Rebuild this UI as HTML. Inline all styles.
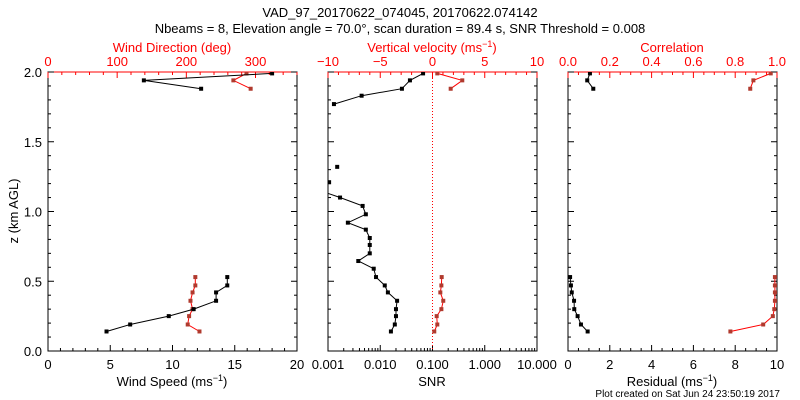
<!DOCTYPE html>
<html><head><meta charset="utf-8"><style>
body{margin:0;background:#fff;}
svg{display:block;font-family:"Liberation Sans",sans-serif;}
</style></head><body>
<svg id="c" width="800" height="400" viewBox="0 0 800 400">
<text x="400" y="17" text-anchor="middle" font-size="13">VAD_97_20170622_074045, 20170622.074142</text>
<text x="400" y="33" text-anchor="middle" font-size="13">Nbeams = 8, Elevation angle = 70.0°, scan duration = 89.4 s, SNR Threshold = 0.008</text>
<text x="780" y="397" text-anchor="end" font-size="10">Plot created on Sat Jun 24 23:50:19 2017</text>
<text transform="translate(18,211) rotate(-90)" text-anchor="middle" font-size="13">z (km AGL)</text>
<g id="g"></g>
</svg>
<script>
// Panel 1: wind speed (black) & direction (red)
const spdZ=[0.14,0.19,0.25,0.30,0.36,0.42,0.47,0.53,null,1.99,1.94,1.88];
const spdV=[4.7,6.6,9.7,11.7,13.5,13.5,14.4,14.4,null,18.0,7.7,12.3];
const dirV=[219,202,204,209,206,209,213,213,null,287,268,293];
// Panel 2: SNR (black) & vertical velocity (red)
const snrZ=[0.14,0.19,0.25,0.30,0.36,0.42,0.47,0.53,0.59,0.645,0.70,0.76,0.81,0.87,0.92,0.98,1.04,1.10,1.15,null,1.21,null,1.32,null,1.77,1.83,1.88,1.94,1.99];
const snrV=[0.016,0.019,0.020,0.020,0.021,0.014,0.0122,0.0083,0.0075,0.0038,0.0063,0.0063,0.0063,0.0053,0.0024,0.0053,0.0046,0.0017,0.0007,null,0.00105,null,0.0015,null,0.0013,0.0044,0.026,0.037,0.066];
const wZ=[0.14,0.19,0.25,0.30,0.36,0.42,0.47,0.53,null,1.99,1.94,1.88];
const wV=[0.17,0.46,0.40,0.85,1.03,0.75,0.85,0.88,null,0.46,2.85,1.74];
// Panel 3: residual (black) & correlation (red)
const resZ=[0.14,0.19,0.25,0.30,0.36,0.42,0.47,0.53,null,1.99,1.94,1.88];
const resV=[0.94,0.62,0.46,0.30,0.29,0.18,0.14,0.10,null,1.05,0.92,1.21];
const corV=[0.777,0.934,0.98,0.987,0.99,0.99,0.99,0.99,null,0.97,0.887,0.872];
const zTicks=["0.0","0.5","1.0","1.5","2.0"];

const NS="http://www.w3.org/2000/svg";
const G=document.getElementById('g');
const TOP=72,BOT=351;
const yS=z=>BOT-(z/2)*(BOT-TOP);
function el(t,a,p){const e=document.createElementNS(NS,t);for(const k in a)e.setAttribute(k,a[k]);(p||G).appendChild(e);return e;}
function txt(x,y,s,col,anchor,size,p){const e=el('text',{x:x,y:y,fill:col,'text-anchor':anchor||'middle','font-size':size||13},p);e.textContent=s;return e;}

function panel(name,L,R,xb,xt,clipId){
  const g=el('g',{});
  
  
  const cp=el('clipPath',{id:clipId},g);el('rect',{x:L,y:TOP,width:R-L,height:BOT-TOP},cp);
  const fr=el('rect',{x:L,y:TOP,width:R-L,height:BOT-TOP,fill:'none',stroke:'#000'},g);
  
  
  el('line',{x1:L,y1:TOP,x2:R,y2:TOP,stroke:'#f00'},g);
  // y ticks
  for(let i=0;i<=20;i++){const y=yS(i/10),len=i%5==0?6:3;
    el('line',{x1:L,y1:y,x2:L+len,y2:y,stroke:'#000'},g);
    el('line',{x1:R,y1:y,x2:R-len,y2:y,stroke:'#000'},g);}
  // bottom
  xb(g);xt(g);
  return g;
}
function linTicks(g,L,R,min,max,maj,minr,y,dir,col,labels,fmt,anc){
  const s=v=>L+(v-min)/(max-min)*(R-L);
  const n=Math.round((max-min)/minr);
  for(let i=0;i<=n;i++){const v=min+i*minr;const isM=Math.abs((v-min)/maj-Math.round((v-min)/maj))<1e-6;
    el('line',{x1:s(v),y1:y,x2:s(v),y2:y+dir*(isM?6:3),stroke:col},g);
    if(isM&&labels){const t=txt(s(v),labels,fmt(v),col,'middle',13,g);
      
      }}
}
function series(g,xs,zs,vs,lc,mc,clip,name){
  const sg=el('g',{'clip-path':'url(#'+clip+')'},g);
  
  
  let d='',pen=false;
  for(let i=0;i<zs.length;i++){
    if(zs[i]==null||vs[i]==null){pen=false;continue;}
    const x=xs(vs[i]),y=yS(zs[i]);d+=(pen?'L':'M')+x.toFixed(1)+' '+y.toFixed(1);pen=true;}
  el('path',{d:d,fill:'none',stroke:lc,'stroke-width':1},sg);
  for(let i=0;i<zs.length;i++){if(zs[i]==null||vs[i]==null)continue;
    const m=el('rect',{x:xs(vs[i])-2,y:yS(zs[i])-2,width:4,height:4,fill:mc},sg);
    
    }
}
// y labels
zTicks.forEach((s,i)=>{const t=txt(42,yS(i*0.5)+5,s,'#000','end',13);
  
  });

// Panel 1
const L1=48,R1=297;
const sx1=v=>L1+v/20*(R1-L1), dx1=v=>L1+v/360*(R1-L1);
const p1=panel('wind-panel',L1,R1,g=>linTicks(g,L1,R1,0,20,5,1,BOT,-1,'#000',369,v=>String(Math.round(v))),
  g=>linTicks(g,L1,360/360*R1+0*L1,0,360,100,20,TOP,1,'#f00',66,v=>String(Math.round(v))),'c1');
txt(172,386,'Wind Speed (ms','#000','middle',13,p1).innerHTML='Wind Speed (ms<tspan dy="-5" font-size="9">−1</tspan><tspan dy="5">)</tspan>';
txt(172,52,'Wind Direction (deg)','#f00','middle',13,p1);
series(p1,dx1,spdZ,dirV,'#f00','#b03a2e','c1','wind-direction-series');
series(p1,sx1,spdZ,spdV,'#000','#000','c1','wind-speed-series');

// Panel 2
const L2=328,R2=537;
const lx2=v=>L2+(Math.log10(v)+3)/4*(R2-L2), wx2=v=>L2+(v+10)/20*(R2-L2);
const p2=panel('snr-panel',L2,R2,g=>{
  for(let d=-3;d<1;d++)for(let k=1;k<10;k++){const x=lx2(k*Math.pow(10,d));el('line',{x1:x,y1:BOT,x2:x,y2:BOT-(k==1?6:3),stroke:'#000'},g);}
  el('line',{x1:R2,y1:BOT,x2:R2,y2:BOT-6,stroke:'#000'},g);
  ['0.001','0.010','0.100','1.000','10.000'].forEach((s,i)=>{const t=txt(L2+i*(R2-L2)/4,369,s,'#000','middle',13,g);
    
    });
},g=>linTicks(g,L2,R2,-10,10,5,1,TOP,1,'#f00',66,v=>{const r=Math.round(v);return r<0?'−'+(-r):String(r);}),'c2');
txt(432,386,'SNR','#000','middle',13,p2);
txt(432,52,'','#f00','middle',13,p2).innerHTML='Vertical velocity (ms<tspan dy="-5" font-size="9">−1</tspan><tspan dy="5">)</tspan>';
el('line',{x1:wx2(0),y1:TOP,x2:wx2(0),y2:BOT,stroke:'#f00','stroke-dasharray':'1,2'},p2);
series(p2,wx2,wZ,wV,'#f00','#b03a2e','c2','vertical-velocity-series');
series(p2,lx2,snrZ,snrV,'#000','#000','c2','snr-series');

// Panel 3
const L3=568,R3=777;
const rx3=v=>L3+v/10*(R3-L3), cx3=v=>L3+v*(R3-L3);
const p3=panel('residual-panel',L3,R3,g=>linTicks(g,L3,R3,0,10,2,0.5,BOT,-1,'#000',369,v=>String(Math.round(v))),
  g=>linTicks(g,L3,R3,0,1,0.2,0.05,TOP,1,'#f00',66,v=>v.toFixed(1)),'c3');
txt(672,386,'','#000','middle',13,p3).innerHTML='Residual (ms<tspan dy="-5" font-size="9">−1</tspan><tspan dy="5">)</tspan>';
txt(672,52,'Correlation','#f00','middle',13,p3);
series(p3,cx3,resZ,corV,'#f00','#b03a2e','c3','correlation-series');
series(p3,rx3,resZ,resV,'#000','#000','c3','residual-series');
</script>
</body></html>
